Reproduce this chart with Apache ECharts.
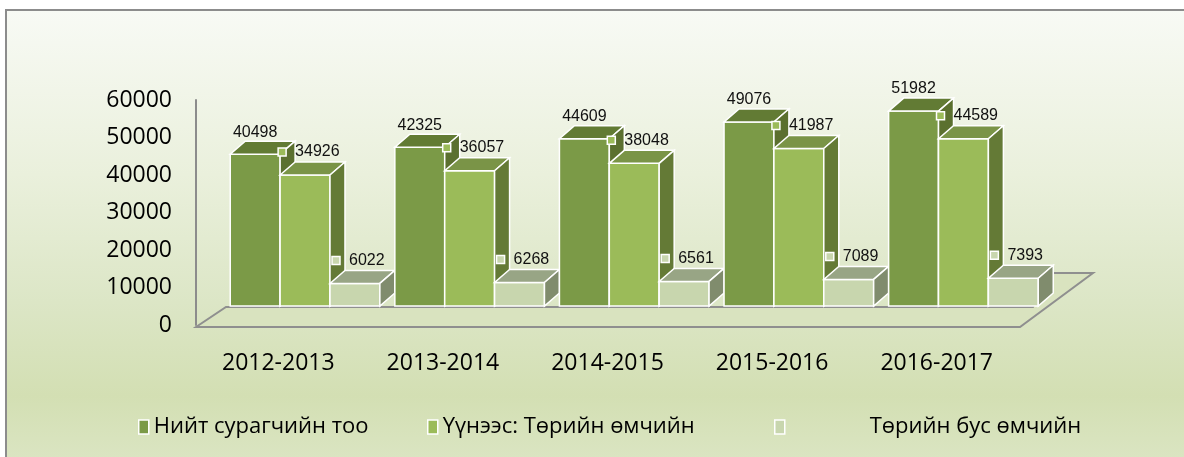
<!DOCTYPE html>
<html>
<head>
<meta charset="utf-8">
<script src="https://cdn.jsdelivr.net/npm/echarts@6/dist/echarts.min.js"></script>
<style>
  body { margin: 0; background: #ffffff; }
  #chart { width: 1184px; height: 457px; }
</style>
</head>
<body>
<div id="chart"></div>
<script>
//====================data========================
var years = ['2012-2013', '2013-2014', '2014-2015', '2015-2016', '2016-2017'];
var seriesNames = ['Нийт сурагчийн тоо', 'Үүнээс: Төрийн өмчийн', 'Төрийн бус өмчийн'];
var totalStudents = [40498, 42325, 44609, 49076, 51982];
var stateOwned = [34926, 36057, 38048, 41987, 44589];
var privateOwned = [6022, 6268, 6561, 7089, 7393];
var yTicks = [0, 10000, 20000, 30000, 40000, 50000, 60000];

//====================styles========================
// front / top / side colours of each series
var faces = [
    {front: '#7b9a47', top: '#627b34', side: '#5b702f'},
    {front: '#9bbb59', top: '#7a9447', side: '#647a36'},
    {front: '#c8d6ae', top: '#98a585', side: '#808c6d'}
];
var GRID_LEFT = 196, GRID_TOP = 100, GRID_W = 823, GRID_H = 225;
var DEPTH_X = 15, DEPTH_Y = -13, LIFT = 19;

var chart = echarts.init(document.getElementById('chart'));

// 3D-looking bar: front face, top face, right side face
function renderBar(params, api) {
    var s = params.seriesIndex;
    var g = params.dataIndex;
    var top = api.coord([api.value(0), api.value(1)]);
    var zero = api.coord([api.value(0), 0]);
    var band = api.size([1, 0])[0];
    var w = band * 0.303;
    var x0 = top[0] - band * 0.292 + s * w;
    var yb = zero[1] - LIFT;
    var yt = top[1] - LIFT;
    var c = faces[s];
    var z = g * 10 + s;
    var kids = [
        {
            type: 'rect', z2: z,
            shape: {x: x0, y: yt, width: w, height: yb - yt},
            style: {fill: c.front, stroke: '#ffffff', lineWidth: 1.5}
        },
        {
            type: 'polygon', z2: z,
            shape: {points: [[x0, yt], [x0 + w, yt], [x0 + w + DEPTH_X, yt + DEPTH_Y], [x0 + DEPTH_X, yt + DEPTH_Y]]},
            style: {fill: c.top, stroke: '#ffffff', lineWidth: 1.5}
        },
        {
            type: 'polygon', z2: z,
            shape: {points: [[x0 + w, yt], [x0 + w + DEPTH_X, yt + DEPTH_Y], [x0 + w + DEPTH_X, yb + DEPTH_Y], [x0 + w, yb]]},
            style: {fill: c.side, stroke: '#ffffff', lineWidth: 1.5}
        }
    ];
    var labelY = yt + DEPTH_Y - 10;
    var txt = String(api.value(1));
    if (s === 0) {
        kids.push({
            type: 'text', z2: 900,
            style: {x: x0 + w / 2, y: labelY + 1, text: txt, align: 'center', verticalAlign: 'middle',
                fill: '#111', font: '16px "Liberation Sans", Arial, sans-serif'}
        });
    } else {
        var mx = x0 + (s === 1 ? 2 : 6);
        kids.push({
            type: 'rect', z2: 900,
            shape: {x: mx - 4, y: labelY - 4, width: 8, height: 8},
            style: {fill: c.front, stroke: '#ffffff', lineWidth: 1.5}
        });
        kids.push({
            type: 'text', z2: 900,
            style: {x: mx + 13, y: labelY, text: txt, align: 'left', verticalAlign: 'middle',
                fill: '#111', font: '16px "Liberation Sans", Arial, sans-serif'}
        });
    }
    return {type: 'group', children: kids};
}

function toData(values) {
    var out = [];
    for (var i = 0; i < values.length; i++) {
        out.push([i, values[i]]);
    }
    return out;
}

var allValues = [totalStudents, stateOwned, privateOwned];
var series = [];
for (var i = 0; i < allValues.length; i++) {
    series.push({
        name: seriesNames[i],
        type: 'custom',
        renderItem: renderBar,
        itemStyle: {color: faces[i].front},
        encode: {x: 0, y: 1},
        data: toData(allValues[i])
    });
}

// floor of the 3D plot (decoration, follows the grid)
var yFront = GRID_TOP + GRID_H + 2;
var yBack = yFront - LIFT - 1;
var floorPoints = [
    [GRID_LEFT, yFront],
    [GRID_LEFT + 30, yBack],
    [GRID_LEFT + GRID_W + 14, yBack],
    [GRID_LEFT + GRID_W + 32, yFront - 54],
    [GRID_LEFT + GRID_W + 74, yFront - 54],
    [GRID_LEFT + GRID_W + 1, yFront]
];

var legendFont = {fontSize: 22, fontFamily: '"Open Sans", "Noto Sans", sans-serif', color: '#000'};
var legendBase = {
    top: 411, icon: 'rect', itemWidth: 10, itemHeight: 14,
    itemStyle: {borderColor: '#ffffff', borderWidth: 1.5},
    selectedMode: false
};

var option = {
    animation: false,
    textStyle: {fontFamily: '"Open Sans", "Noto Sans", sans-serif'},
    graphic: [
        {
            type: 'rect', z: -10, silent: true,
            shape: {x: 6, y: 10, width: 1200, height: 470},
            style: {
                fill: new echarts.graphic.LinearGradient(0, 0, 0, 1, [
                    {offset: 0, color: '#f8faf5'},
                    {offset: 0.35, color: '#eaf0dc'},
                    {offset: 0.62, color: '#dce6c6'},
                    {offset: 0.82, color: '#d3dfb3'},
                    {offset: 1, color: '#dde7c7'}
                ]),
                stroke: '#8c8c8c', lineWidth: 2
            }
        },
        {
            type: 'polygon', z: 1, silent: true,
            shape: {points: floorPoints},
            style: {fill: '#d9e3bf', stroke: '#8f8f8f', lineWidth: 2}
        }
    ],
    legend: [
        Object.assign({left: 133, data: [seriesNames[0]], textStyle: legendFont}, legendBase),
        Object.assign({left: 422, data: [seriesNames[1]], textStyle: legendFont}, legendBase),
        Object.assign({left: 769, data: [seriesNames[2]],
            textStyle: Object.assign({padding: [0, 0, 0, 80]}, legendFont)}, legendBase)
    ],
    grid: {left: GRID_LEFT, top: GRID_TOP, width: GRID_W, height: GRID_H},
    xAxis: {
        type: 'category',
        data: years,
        axisLine: {show: false},
        axisTick: {show: false},
        axisLabel: {margin: 27, fontSize: 23, color: '#000', fontFamily: '"Open Sans", sans-serif'}
    },
    yAxis: {
        type: 'value',
        min: yTicks[0],
        max: yTicks[yTicks.length - 1],
        interval: yTicks[1] - yTicks[0],
        axisLine: {show: true, lineStyle: {color: '#8c8c8c', width: 2}},
        axisTick: {show: false},
        splitLine: {show: false},
        axisLabel: {
            margin: 24, fontSize: 23, color: '#000', fontFamily: '"Open Sans", sans-serif',
            formatter: function (v) { return String(v); }
        }
    },
    series: series
};
chart.setOption(option);
</script>
</body>
</html>
